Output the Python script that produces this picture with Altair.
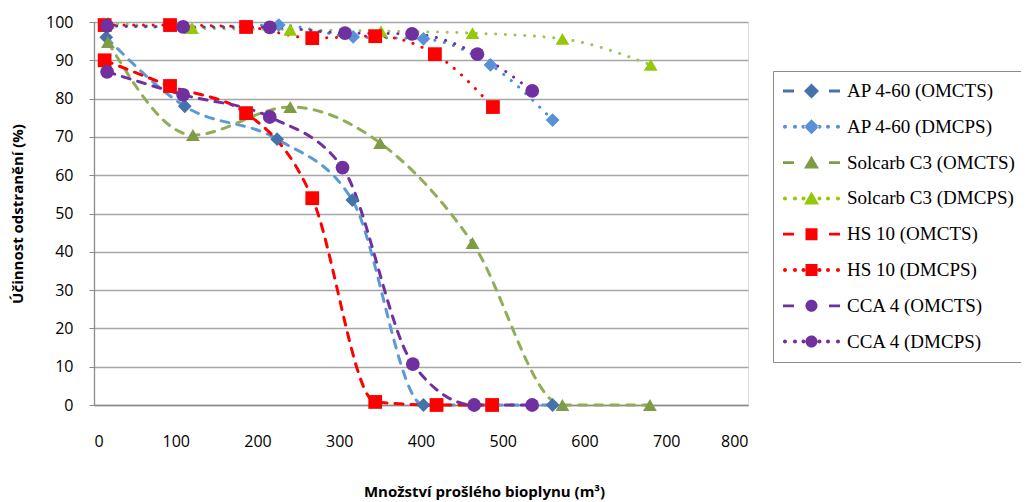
import altair as alt
import pandas as pd

series = ["AP 4-60 (OMCTS)", "AP 4-60 (DMCPS)", "Solcarb C3 (OMCTS)", "Solcarb C3 (DMCPS)",
          "HS 10 (OMCTS)", "HS 10 (DMCPS)", "CCA 4 (OMCTS)", "CCA 4 (DMCPS)"]

ap_omcts_x = [15, 111, 224, 316, 403, 485, 561]
ap_omcts_y = [96, 78, 69.4, 53.5, 0, 0, 0]
ap_dmcps_x = [15, 111, 226, 317, 403, 485, 561]
ap_dmcps_y = [99, 98.6, 99.2, 96.1, 95.6, 88.8, 74.4]
sol_omcts_x = [17, 121, 240, 350, 463, 573, 680]
sol_omcts_y = [94.8, 70.5, 77.8, 68.4, 42.3, 0, 0]
sol_dmcps_x = [17, 120, 240, 351, 463, 573, 681]
sol_dmcps_y = [99.8, 98.4, 98, 97.6, 97.1, 95.6, 88.8]
hs_omcts_x = [13, 93, 186, 267, 344, 419, 487]
hs_omcts_y = [90, 83.3, 76.2, 54, 0.8, 0, 0]
hs_dmcps_x = [13, 93, 186, 267, 344, 417, 488]
hs_dmcps_y = [99.2, 99.2, 98.7, 95.8, 96.3, 91.6, 77.8]
cca_omcts_x = [16, 109, 215, 304, 390, 465, 536]
cca_omcts_y = [87, 81, 75.2, 62, 10.7, 0, 0]
cca_dmcps_x = [16, 109, 215, 307, 389, 469, 536]
cca_dmcps_y = [99, 98.7, 98.6, 97.1, 96.9, 91.6, 82]

xs = [ap_omcts_x, ap_dmcps_x, sol_omcts_x, sol_dmcps_x, hs_omcts_x, hs_dmcps_x, cca_omcts_x, cca_dmcps_x]
ys = [ap_omcts_y, ap_dmcps_y, sol_omcts_y, sol_dmcps_y, hs_omcts_y, hs_dmcps_y, cca_omcts_y, cca_dmcps_y]

x_ticks = [0, 100, 200, 300, 400, 500, 600, 700, 800]
y_ticks = [0, 10, 20, 30, 40, 50, 60, 70, 80, 90, 100]

rows = []
for s, xv, yv in zip(series, xs, ys):
    for a, b in zip(xv, yv):
        rows.append({"series": s, "x": a, "y": b})
df = pd.DataFrame(rows)

line_colors = ["#5B9BD5", "#4A8FDD", "#8FAE57", "#9DC35A", "#FF0000", "#FF0000", "#7030A0", "#7030A0"]
marker_colors = ["#4672AC", "#5891D6", "#7E9C45", "#95C80A", "#FF0000", "#FF0000", "#7030A0", "#7030A0"]
dashes = [[8, 8], [0.1, 9.6]] * 4
shapes = ["diamond", "diamond", "triangle-up", "triangle-up", "square", "square", "circle", "circle"]

# legend sample glyphs (unit = 10 px, sample spans -1 .. 4.7, marker centred at 1.85)
MC = 1.85


def rect(x0, x1, h=0.14):
    return f"M{x0},{-h}L{x1},{-h}L{x1},{h}L{x0},{h}Z"


def dot(cx, r=0.2):
    return f"M{cx - r},0A{r},{r},0,1,0,{cx + r},0A{r},{r},0,1,0,{cx - r},0Z"


marker_paths = {
    "diamond": f"M{MC},-0.75L{MC + 0.75},0L{MC},0.75L{MC - 0.75},0Z",
    "triangle-up": f"M{MC},-0.68L{MC + 0.75},0.6L{MC - 0.75},0.6Z",
    "square": f"M{MC - 0.6},-0.6L{MC + 0.6},-0.6L{MC + 0.6},0.6L{MC - 0.6},0.6Z",
    "circle": f"M{MC - 0.6},0A0.6,0.6,0,1,0,{MC + 0.6},0A0.6,0.6,0,1,0,{MC - 0.6},0Z",
}
dash_part = rect(-1, 0.1) + rect(3.6, 4.7)
dot_part = "".join(dot(c) for c in [-0.8, 0.2, 1.05, 2.65, 3.5, 4.5])
legend_paths = []
for i, shp in enumerate(shapes):
    legend_paths.append((dash_part if i % 2 == 0 else dot_part) + marker_paths[shp])

xscale = alt.Scale(domain=[0, 800], nice=False)
yscale = alt.Scale(domain=[0, 100], nice=False)

x_axis = alt.Axis(values=x_ticks, grid=False, domainColor="#8C8C8C", domainWidth=1.3, tickSize=0,
                  labelFont="Open Sans", labelFontSize=16, labelColor="black", labelPadding=28,
                  title="Množství prošlého bioplynu (m³)", titleFont="Open Sans", titleFontSize=15,
                  titleFontWeight="bold", titleColor="black", titleX=390, titleY=86,
                  titleAlign="center", titleBaseline="middle")
y_axis = alt.Axis(values=y_ticks, grid=True, gridColor="#A6A6A6", gridWidth=1.3,
                  domainColor="#8C8C8C", domainWidth=1.3, tickColor="#8C8C8C", tickSize=5,
                  labelFont="Open Sans", labelFontSize=16, labelColor="black", labelPadding=16,
                  title="Účinnost odstranění (%)", titleFont="Open Sans", titleFontSize=15,
                  titleFontWeight="bold", titleColor="black", titleX=-77, titleY=191.5,
                  titleAngle=270, titleAlign="center", titleBaseline="middle")

X = alt.X("x:Q", scale=xscale, axis=x_axis)
Y = alt.Y("y:Q", scale=yscale, axis=y_axis)

lines = alt.Chart(df).mark_line(interpolate="monotone", strokeWidth=3, strokeCap="round").encode(
    x=X, y=Y,
    color=alt.Color("series:N", scale=alt.Scale(domain=series, range=line_colors), legend=None),
    strokeDash=alt.StrokeDash("series:N", scale=alt.Scale(domain=series, range=dashes), legend=None),
)

points = alt.Chart(df).mark_point(filled=True, opacity=1, size=190).encode(
    x=X, y=Y,
    color=alt.Color("series:N", scale=alt.Scale(domain=series, range=marker_colors), legend=None),
    shape=alt.Shape("series:N", scale=alt.Scale(domain=series, range=shapes), legend=None),
)

leg = alt.Legend(orient="none", legendX=679, legendY=49, title=None, labelFont="Liberation Serif",
                 labelFontSize=19, labelColor="black", symbolSize=400, symbolStrokeWidth=0,
                 symbolOpacity=1, strokeColor="#8C8C8C", fillColor="white", padding=10,
                 rowPadding=15.8, labelOffset=44, labelLimit=400)

legend_layer = alt.Chart(df).transform_filter("datum.x < -1000").mark_point(filled=True, opacity=1).encode(
    x=X, y=Y,
    color=alt.Color("series:N", scale=alt.Scale(domain=series, range=marker_colors), legend=leg),
    shape=alt.Shape("series:N", scale=alt.Scale(domain=series, range=legend_paths), legend=leg),
)

chart = alt.layer(lines, points, legend_layer).resolve_scale(
    color="independent", shape="independent", strokeDash="independent"
).properties(
    width=654, height=383,
    autosize=alt.AutoSizeParams(type="none"),
    padding={"left": 86, "top": 14, "right": 273, "bottom": 95},
).configure_view(stroke=None).configure(background="white")

chart.save("out.html", embed_options={"renderer": "svg", "actions": False})
